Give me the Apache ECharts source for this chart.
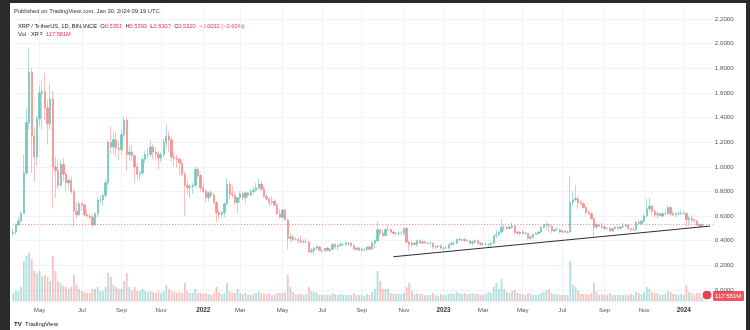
<!DOCTYPE html>
<html>
<head>
<meta charset="utf-8">
<script src="https://cdn.jsdelivr.net/npm/echarts@6/dist/echarts.min.js"></script>
<style>
  html, body { margin: 0; padding: 0; background: #2a2a2a; }
  #frame { position: absolute; left: 10px; top: 3px; width: 736px; height: 327px; background: #ffffff; }
  #chart { position: absolute; left: 0; top: 0; width: 750px; height: 330px; }
</style>
</head>
<body>
<div id="frame"></div>
<div id="chart"></div>
<script>
// XRP / TetherUS, Binance — bars aggregated over 4-day periods starting 2021-03-19
const periodStart = '2021-03-19';
const periodDays = 4;
const periodCount = 266; // includes empty periods to the right of the last bar

const opens = [
  // 2021
  .46,.47,.53,.56,.62,.95,1.36,1.77,1.25,1.08, 1.39,1.60,1.61,1.48,1.35,1.55,1.00,.97,.85,1.02,
  .94,.87,.89,.80,.64,.61,.70,.69,.61,.60, .59,.53,.62,.73,.73,.77,.87,1.20,1.16,1.22,
  1.15,1.14,1.26,1.38,1.10,1.12,1.09,1.00,.94,.95, 1.06,1.10,1.10,1.16,1.12,1.10,1.07,1.10,1.20,1.25,
  1.22,1.08,1.07,1.06,1.03,.94,.85,.83,.84,.85, .98,.93,
  // 2022
  .83,.80,.75,.79,.77,.71,.63,.61,.63,.70, .86,.78,.77,.71,.75,.78,.75,.79,.77,.80,
  .81,.83,.86,.82,.76,.74,.71,.72,.69,.62, .59,.65,.57,.42,.43,.41,.41,.40,.39,.39,
  .39,.31,.32,.34,.35,.32,.32,.34,.32,.33, .37,.35,.36,.37,.37,.38,.38,.36,.33,.34,
  .32,.33,.33,.35,.33,.38,.40,.49,.46,.44, .49,.49,.47,.46,.46,.46,.46,.50,.39,.37,
  .38,.37,.40,.38,.39,.38,.38,.38,.35,.35, .36,.34,
  // 2023 - 2024
  .34,.34,.37,.38,.38,.41,.41,.41,.40,.40, .38,.39,.40,.38,.37,.37,.37,.37,.38,.44,
  .45,.47,.51,.51,.50,.51,.52,.47,.46,.47, .46,.46,.42,.43,.45,.46,.47,.51,.53,.53,
  .52,.48,.49,.49,.47,.48,.47,.47,.71,.73, .74,.71,.70,.67,.63,.62,.58,.51,.53,.52,
  .51,.50,.50,.48,.50,.51,.50,.51,.52,.53, .50,.49,.49,.55,.54,.56,.60,.66,.68,.64,
  .61,.62,.60,.62,.62,.67,.62,.61,.62,.62, .62,.62,.57,.58,.57,.56,.53,.52
];

const closes = [
  // 2021
  .47,.53,.56,.62,.95,1.36,1.77,1.25,1.08,1.39, 1.60,1.61,1.48,1.35,1.55,1.00,.97,.85,1.02,.94,
  .87,.89,.80,.64,.61,.70,.69,.61,.60,.59, .53,.62,.73,.73,.77,.87,1.20,1.16,1.22,1.15,
  1.14,1.26,1.38,1.10,1.12,1.09,1.00,.94,.95,1.06, 1.10,1.10,1.16,1.12,1.10,1.07,1.10,1.20,1.25,1.22,
  1.08,1.07,1.06,1.03,.94,.85,.83,.84,.85,.98, .93,.83,
  // 2022
  .80,.75,.79,.77,.71,.63,.61,.63,.70,.86, .78,.77,.71,.75,.78,.75,.79,.77,.80,.81,
  .83,.86,.82,.76,.74,.71,.72,.69,.62,.59, .65,.57,.42,.43,.41,.41,.40,.39,.39,.39,
  .31,.32,.34,.35,.32,.32,.34,.32,.33,.37, .35,.36,.37,.37,.38,.38,.36,.33,.34,.32,
  .33,.33,.35,.33,.38,.40,.49,.46,.44,.49, .49,.47,.46,.46,.46,.46,.50,.39,.37,.38,
  .37,.40,.38,.39,.38,.38,.38,.35,.35,.36, .34,.34,
  // 2023 - 2024
  .34,.37,.38,.38,.41,.41,.41,.40,.40,.38, .39,.40,.38,.37,.37,.37,.37,.38,.44,.45,
  .47,.51,.51,.50,.51,.52,.47,.46,.47,.46, .46,.42,.43,.45,.46,.47,.51,.53,.53,.52,
  .48,.49,.49,.47,.48,.47,.47,.71,.73,.74, .71,.70,.67,.63,.62,.58,.51,.53,.52,.51,
  .50,.50,.48,.50,.51,.50,.51,.52,.53,.50, .49,.49,.55,.54,.56,.60,.66,.68,.64,.61,
  .62,.60,.62,.62,.67,.62,.61,.62,.62,.62, .62,.57,.58,.57,.56,.53,.52,.532
];

const highs = [
  // 2021
  .50,.54,.59,.64,1.10,1.48,1.96,1.80,1.32,1.42, 1.66,1.70,1.76,1.55,1.68,1.62,1.08,1.06,1.06,1.07,
  .96,.91,.92,.82,.71,.72,.71,.70,.65,.62, .61,.63,.76,.77,.78,.90,1.22,1.33,1.28,1.28,
  1.20,1.30,1.41,1.40,1.17,1.18,1.10,1.03,.97,1.08, 1.13,1.15,1.22,1.18,1.16,1.13,1.12,1.23,1.34,1.29,
  1.24,1.12,1.10,1.08,1.06,.96,.90,.86,.87,1.00, 1.00,.94,
  // 2022
  .87,.82,.80,.81,.79,.72,.65,.64,.71,.91, .88,.85,.80,.75,.80,.80,.80,.79,.82,.84,
  .87,.91,.88,.84,.78,.75,.76,.74,.70,.66, .66,.66,.58,.46,.45,.43,.42,.44,.41,.42,
  .40,.34,.35,.37,.36,.33,.34,.35,.34,.38, .38,.37,.39,.38,.39,.39,.39,.37,.35,.35,
  .34,.34,.35,.36,.40,.41,.56,.50,.49,.50, .53,.50,.48,.47,.47,.48,.50,.51,.40,.40,
  .39,.41,.41,.41,.40,.39,.40,.39,.36,.36, .37,.35,
  // 2023 - 2024
  .36,.37,.39,.40,.42,.43,.42,.42,.41,.40, .40,.41,.41,.39,.39,.39,.38,.39,.45,.49,
  .48,.58,.53,.52,.52,.55,.53,.48,.48,.49, .47,.46,.44,.46,.47,.48,.52,.54,.55,.54,
  .53,.50,.51,.50,.49,.49,.48,.93,.80,.85, .76,.73,.71,.68,.65,.63,.59,.54,.53,.55,
  .52,.51,.51,.50,.52,.52,.52,.55,.54,.53, .50,.51,.56,.57,.57,.62,.74,.75,.69,.65,
  .64,.63,.63,.66,.69,.68,.64,.63,.64,.65, .64,.63,.60,.61,.58,.57,.53,.5393
];

const lows = [
  // 2021
  .44,.45,.52,.55,.62,.93,1.30,.95,.88,1.01, 1.33,1.30,1.38,1.18,1.30,.66,.75,.82,.84,.88,
  .80,.82,.78,.51,.58,.60,.64,.60,.59,.57, .51,.52,.59,.70,.68,.75,.85,1.10,1.10,1.08,
  1.05,1.10,1.24,.97,1.05,1.05,.87,.90,.89,.93, 1.03,1.06,1.08,1.06,1.05,.98,1.04,1.08,1.15,1.12,
  1.04,1.00,.99,.93,.92,.60,.78,.75,.78,.83, .90,.80,
  // 2022
  .79,.71,.72,.75,.70,.55,.58,.59,.59,.69, .74,.75,.69,.62,.71,.73,.70,.75,.76,.78,
  .80,.81,.80,.75,.73,.68,.69,.68,.61,.58, .58,.56,.33,.39,.39,.40,.38,.38,.38,.38,
  .30,.30,.29,.32,.32,.30,.31,.32,.31,.33, .33,.32,.36,.36,.36,.36,.35,.32,.32,.32,
  .32,.32,.31,.32,.33,.34,.39,.43,.43,.44, .48,.46,.45,.44,.44,.45,.44,.38,.32,.35,
  .36,.35,.38,.38,.38,.37,.37,.33,.33,.34, .33,.32,
  // 2023 - 2024
  .33,.33,.36,.36,.37,.40,.39,.39,.39,.37, .36,.38,.37,.36,.36,.36,.34,.35,.37,.42,
  .43,.46,.48,.49,.49,.50,.45,.45,.44,.45, .45,.41,.41,.42,.45,.45,.46,.50,.49,.47,
  .46,.47,.48,.46,.46,.46,.46,.46,.68,.72, .66,.69,.66,.61,.61,.57,.43,.50,.51,.50,
  .49,.49,.47,.47,.49,.49,.49,.51,.51,.49, .47,.48,.48,.53,.53,.55,.59,.64,.61,.59,
  .58,.60,.59,.61,.61,.60,.60,.59,.61,.61, .61,.51,.53,.55,.55,.52,.50,.515
];

// average daily volume per period, millions of XRP
const volumes = [
  // 2021
  400,500,500,700,2000,2250,2400,2100,1500,1400, 1500,1250,1300,1200,1000,2250,1500,1000,900,750,
  700,600,700,1300,800,600,500,450,400,400, 600,600,700,500,500,700,1400,1200,800,700,
  600,600,1000,1400,700,500,700,500,500,600, 500,450,500,450,400,500,400,500,800,600,
  500,450,400,450,400,900,500,400,400,600, 400,400,
  // 2022
  350,400,350,300,400,700,450,350,400,900, 500,400,400,600,400,350,400,300,300,350,
  400,500,400,350,350,400,300,300,400,400, 400,450,1300,700,450,350,350,350,300,350,
  700,500,450,400,300,300,300,300,300,400, 350,300,350,300,300,300,300,400,300,300,
  300,250,350,300,450,600,1500,1000,600,600, 600,400,350,350,350,350,400,700,900,500,
  350,400,350,350,300,300,300,400,300,250, 350,300,
  // 2023 - 2024
  300,350,400,350,450,400,350,400,350,350, 400,350,350,300,300,350,450,400,700,900,
  600,1100,600,450,400,500,550,400,350,350, 300,400,350,300,300,300,400,450,550,600,
  400,350,350,300,300,300,300,2000,800,700, 500,350,350,350,300,400,900,450,300,350,
  300,300,400,300,300,300,300,300,300,300, 350,300,450,400,350,450,700,600,450,400,
  400,300,300,350,500,450,350,350,300,350, 300,800,450,400,300,400,400,200
];

// price scale ticks and the hand-drawn support line
const priceMin = 0, priceMax = 2.2, priceStep = 0.2;
const lastPrice = 0.532;
const trendDates = ['2022-10-16', '2024-02-08'];
const trendPrices = [0.270, 0.519];

const monthNames = ['Jan','Feb','Mar','Apr','May','Jun','Jul','Aug','Sep','Oct','Nov','Dec'];

// category labels: one per period, named by its first day
const categories = [];
const t0 = Date.parse(periodStart + 'T00:00:00Z');
for (let i = 0; i < periodCount; i++) {
  categories.push(new Date(t0 + i * periodDays * 864e5).toISOString().slice(0, 10));
}

// month that begins inside a period, or null
function monthStartIn(cat) {
  const t = Date.parse(cat + 'T00:00:00Z');
  for (let k = 0; k < periodDays; k++) {
    const d = new Date(t + k * 864e5);
    if (d.getUTCDate() === 1) return { m: d.getUTCMonth(), y: d.getUTCFullYear() };
  }
  return null;
}
// the time scale marks every second month
function isTimeMark(idx) {
  const ms = monthStartIn(categories[idx]);
  return !!ms && ms.m % 2 === 0;
}

const UP = '#26a69a', DOWN = '#ef5350';
const candleData = opens.map((o, i) => [o, closes[i], lows[i], highs[i]]);
const volData = volumes.map((v, i) => ({
  value: v,
  itemStyle: { color: closes[i] >= opens[i] ? 'rgba(38,166,154,0.36)' : 'rgba(239,83,80,0.36)' }
}));

const FONT = '"Liberation Sans", Arial, sans-serif';
const GL = 13.2, GR = 37.2;

const chart = echarts.init(document.getElementById('chart'), null, { renderer: 'canvas' });
chart.setOption({
  animation: false,
  backgroundColor: 'transparent',
  grid: [
    { left: GL, right: GR, top: 19, bottom: 40 },
    { left: GL, right: GR, top: 5, bottom: 29 }
  ],
  xAxis: [
    {
      type: 'category', gridIndex: 0, data: categories, boundaryGap: false,
      axisLine: { show: false }, axisTick: { show: false }, axisLabel: { show: false },
      splitLine: { show: false }
    },
    {
      type: 'category', gridIndex: 1, data: categories, boundaryGap: false,
      axisLine: { show: true, lineStyle: { color: '#eceef2' } },
      axisTick: { show: false },
      axisLabel: {
        interval: isTimeMark,
        margin: 6, fontSize: 6.2, color: '#555', fontFamily: FONT,
        formatter: (val) => {
          const ms = monthStartIn(val);
          if (!ms) return '';
          return ms.m === 0 ? '{y|' + ms.y + '}' : monthNames[ms.m];
        },
        rich: { y: { fontWeight: 'bold', fontSize: 6.4, color: '#333', fontFamily: FONT } }
      },
      splitLine: {
        show: true,
        interval: isTimeMark,
        lineStyle: { color: '#f1f3f7', width: 1 }
      }
    }
  ],
  yAxis: [
    {
      type: 'value', gridIndex: 0, position: 'right', min: priceMin, max: priceMax, interval: priceStep,
      axisLine: { show: false }, axisTick: { show: false },
      axisLabel: { margin: 2, fontSize: 6.2, color: '#555', fontFamily: FONT, formatter: (v) => v.toFixed(4) },
      splitLine: { show: true, lineStyle: { color: '#f1f3f7', width: 1 } }
    },
    {
      type: 'value', gridIndex: 1, min: 0, max: 14750, show: false,
      splitLine: { show: false }
    }
  ],
  series: [
    {
      type: 'bar', name: 'Vol', xAxisIndex: 1, yAxisIndex: 1, data: volData,
      barWidth: 1.8, z: 1, silent: true
    },
    {
      type: 'candlestick', name: 'XRPUSDT', xAxisIndex: 0, yAxisIndex: 0, data: candleData,
      barWidth: 1.8, z: 3,
      itemStyle: { color: UP, color0: DOWN, borderColor: UP, borderColor0: DOWN, borderWidth: 0.6, opacity: 0.62 },
      markLine: {
        silent: true, symbol: ['none', 'none'], label: { show: false },
        lineStyle: { color: '#f23645', type: [1, 2], width: 1, opacity: 0.6 },
        data: [{ yAxis: lastPrice }]
      }
    },
    {
      type: 'line', name: 'Support', xAxisIndex: 0, yAxisIndex: 0,
      data: trendDates.map((d, i) => [d, trendPrices[i]]),
      symbol: 'none', z: 4, silent: true,
      lineStyle: { color: '#2a2d36', width: 1 }
    }
  ],
  graphic: [
    {
      type: 'text', left: 14, top: 8,
      style: { text: 'Published on TradingView.com, Jan 30, 2024 09:19 UTC', fontSize: 5.8, fill: '#333', fontFamily: FONT }
    },
    {
      type: 'text', left: 18, top: 20,
      style: {
        text: '{k|XRP / TetherUS, 1D, BINANCE} {k|O}{r|0.5351} {k|H}{r|0.5393} {k|L}{r|0.5307} {k|C}{r|0.5320} {r|\u22120.0032 (\u22120.60%)}',
        rich: {
          k: { fontSize: 5.7, fill: '#222', fontFamily: FONT },
          r: { fontSize: 5.7, fill: '#f23645', fontFamily: FONT }
        }
      }
    },
    {
      type: 'text', left: 18, top: 28,
      style: {
        text: '{k|Vol \u00b7 XRP} {r|117.581M}',
        rich: {
          k: { fontSize: 5.7, fill: '#222', fontFamily: FONT },
          r: { fontSize: 5.7, fill: '#f23645', fontFamily: FONT }
        }
      }
    },
    {
      type: 'rect', shape: { x: 713, y: 291, width: 31, height: 10, r: 1 },
      style: { fill: '#f7525f' }
    },
    {
      type: 'text', left: 715, top: 293,
      style: { text: '117.581M', fontSize: 6, fill: '#ffffff', fontFamily: FONT }
    },
    {
      type: 'circle', shape: { cx: 707, cy: 295, r: 5 },
      style: { fill: '#e8404f', stroke: '#ffffff', lineWidth: 1 }
    },
    {
      type: 'text', left: 14, top: 318,
      style: {
        text: '{t|TV} {n|TradingView}',
        rich: {
          t: { fontSize: 6, fontWeight: 'bold', fill: '#131722', fontFamily: FONT },
          n: { fontSize: 6, fill: '#131722', fontFamily: FONT }
        }
      }
    }
  ]
});
</script>
</body>
</html>
